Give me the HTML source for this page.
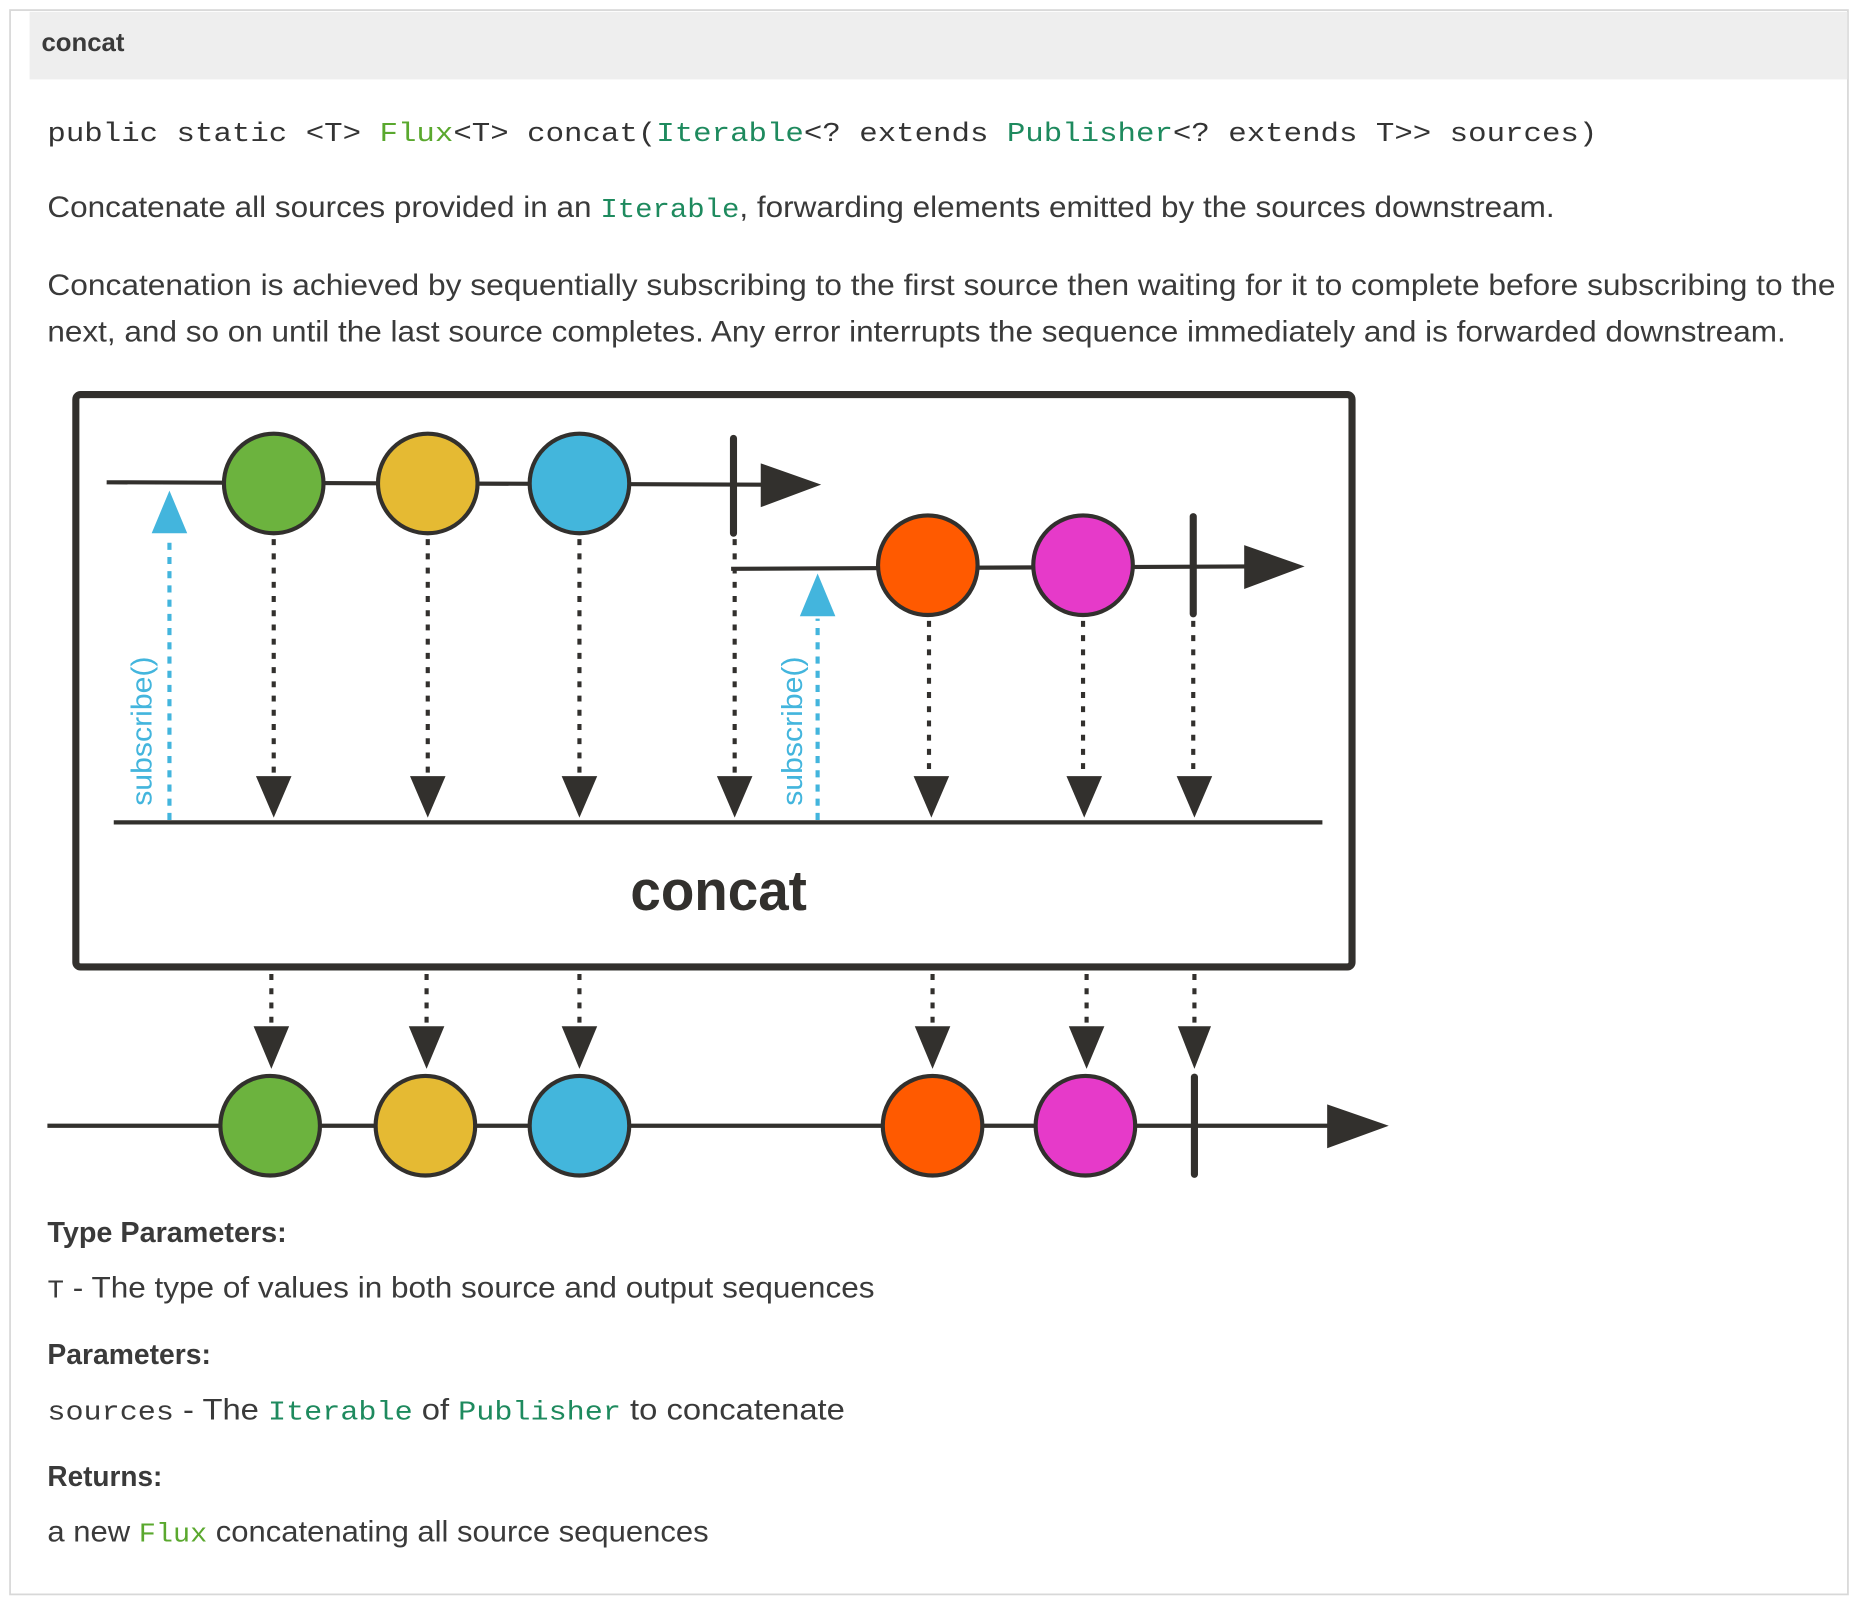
<!DOCTYPE html>
<html><head><meta charset="utf-8"><style>
html,body{margin:0;padding:0;background:#fff;}
svg{display:block;}
text{font-family:"Liberation Sans",sans-serif;fill:#3a3a3a;}
.m{font-family:"Liberation Mono",monospace;}
.g{fill:#1e8a5e;}
.fl{fill:#5aa82e;}
</style></head><body>
<svg width="1858" height="1604" viewBox="0 0 1568 1353.6" preserveAspectRatio="none" xmlns="http://www.w3.org/2000/svg">
<rect x="8.5" y="8.5" width="1551" height="1337" fill="#fff" stroke="#d8d8d8" stroke-width="1.5"/>
<rect x="25" y="10" width="1534" height="57" fill="#eeeeee"/>
<text x="35" y="43" font-size="22" font-weight="bold" textLength="70" lengthAdjust="spacingAndGlyphs" fill="#333">concat</text>
<text class="m" x="40" y="119" font-size="23" textLength="1308" lengthAdjust="spacingAndGlyphs" style="fill:#333">public static &lt;T&gt; <tspan class="fl">Flux</tspan>&lt;T&gt; concat(<tspan class="g">Iterable</tspan>&lt;? extends <tspan class="g">Publisher</tspan>&lt;? extends T&gt;&gt; sources)</text>
<text x="40" y="183" font-size="25" textLength="1272" lengthAdjust="spacingAndGlyphs">Concatenate all sources provided in an <tspan class="m g" font-size="23">Iterable</tspan>, forwarding elements emitted by the sources downstream.</text>
<text x="40" y="249" font-size="25" textLength="1509" lengthAdjust="spacingAndGlyphs">Concatenation is achieved by sequentially subscribing to the first source then waiting for it to complete before subscribing to the</text>
<text x="40" y="288" font-size="25" textLength="1467" lengthAdjust="spacingAndGlyphs">next, and so on until the last source completes. Any error interrupts the sequence immediately and is forwarded downstream.</text>

<!-- diagram box -->
<rect x="64" y="333" width="1077" height="483" rx="4" fill="none" stroke="#32302d" stroke-width="6"/>
<g stroke="#32302d" stroke-width="3.5" fill="none">
<line x1="90" y1="407" x2="645" y2="409"/>
<line x1="617" y1="480" x2="1055" y2="478"/>
<line x1="96" y1="694" x2="1116" y2="694"/>
<line x1="40" y1="950" x2="1125" y2="950"/>
</g>
<g fill="#32302d">
<polygon points="642,391 693,409 642,428"/>
<polygon points="1050,460 1101,478 1050,497"/>
<polygon points="1120,932 1172,950 1120,969"/>
<rect x="616" y="367" width="6" height="86" rx="3"/>
<rect x="1004" y="433" width="6" height="88" rx="3"/>
<rect x="1005" y="906" width="6" height="88" rx="3"/>
</g>
<!-- dotted connectors -->
<g stroke="#32302d" stroke-width="3.5" stroke-dasharray="5 7" fill="none">
<line x1="231" y1="455" x2="231" y2="660"/>
<line x1="361" y1="455" x2="361" y2="660"/>
<line x1="489" y1="455" x2="489" y2="660"/>
<line x1="620" y1="455" x2="620" y2="660"/>
<line x1="784" y1="524" x2="784" y2="660"/>
<line x1="914" y1="524" x2="914" y2="660"/>
<line x1="1007" y1="524" x2="1007" y2="660"/>
<line x1="229" y1="822" x2="229" y2="868"/>
<line x1="360" y1="822" x2="360" y2="868"/>
<line x1="489" y1="822" x2="489" y2="868"/>
<line x1="787" y1="822" x2="787" y2="868"/>
<line x1="917" y1="822" x2="917" y2="868"/>
<line x1="1008" y1="822" x2="1008" y2="868"/>
</g>
<g fill="#32302d">
<polygon points="216,655 246,655 231,690"/>
<polygon points="346,655 376,655 361,690"/>
<polygon points="474,655 504,655 489,690"/>
<polygon points="605,655 635,655 620,690"/>
<polygon points="771,655 801,655 786,690"/>
<polygon points="900,655 930,655 915,690"/>
<polygon points="993,655 1023,655 1008,690"/>
<polygon points="214,866 244,866 229,902"/>
<polygon points="345,866 375,866 360,902"/>
<polygon points="474,866 504,866 489,902"/>
<polygon points="772,866 802,866 787,902"/>
<polygon points="902,866 932,866 917,902"/>
<polygon points="994,866 1022,866 1008,902"/>
</g>
<!-- subscribe -->
<g stroke="#43b5dd" stroke-width="3.5" stroke-dasharray="6 6" fill="none">
<line x1="143" y1="692" x2="143" y2="452"/>
<line x1="690" y1="692" x2="690" y2="522"/>
</g>
<g fill="#43b5dd">
<polygon points="128,450 158,450 143,414"/>
<polygon points="675,520 705,520 690,484"/>
</g>
<text transform="translate(128,680) rotate(-90)" font-size="24" textLength="126" lengthAdjust="spacingAndGlyphs" style="fill:#43b5dd">subscribe()</text>
<text transform="translate(677,680) rotate(-90)" font-size="24" textLength="126" lengthAdjust="spacingAndGlyphs" style="fill:#43b5dd">subscribe()</text>
<!-- circles -->
<g stroke="#32302d" stroke-width="3.5">
<circle cx="231" cy="408" r="42" fill="#6cb33e"/>
<circle cx="361" cy="408" r="42" fill="#e5ba33"/>
<circle cx="489" cy="408" r="42" fill="#43b6dc"/>
<circle cx="783" cy="477" r="42" fill="#ff5a00"/>
<circle cx="914" cy="477" r="42" fill="#e63ac9"/>
<circle cx="228" cy="950" r="42" fill="#6cb33e"/>
<circle cx="359" cy="950" r="42" fill="#e5ba33"/>
<circle cx="489" cy="950" r="42" fill="#43b6dc"/>
<circle cx="787" cy="950" r="42" fill="#ff5a00"/>
<circle cx="916" cy="950" r="42" fill="#e63ac9"/>
</g>
<text x="532" y="768" font-size="48" font-weight="bold" textLength="149" lengthAdjust="spacingAndGlyphs" style="fill:#32302d">concat</text>

<!-- details -->
<text x="40" y="1048" font-size="24" font-weight="bold" textLength="202" lengthAdjust="spacingAndGlyphs" fill="#444">Type Parameters:</text>
<text x="40" y="1095" font-size="25" textLength="698" lengthAdjust="spacingAndGlyphs"><tspan class="m" font-size="22">T</tspan> - The type of values in both source and output sequences</text>
<text x="40" y="1151" font-size="24" font-weight="bold" textLength="138" lengthAdjust="spacingAndGlyphs" fill="#444">Parameters:</text>
<text x="40" y="1198" font-size="25" textLength="673" lengthAdjust="spacingAndGlyphs"><tspan class="m" font-size="23">sources</tspan> - The <tspan class="m g" font-size="23">Iterable</tspan> of <tspan class="m g" font-size="23">Publisher</tspan> to concatenate</text>
<text x="40" y="1254" font-size="24" font-weight="bold" textLength="97" lengthAdjust="spacingAndGlyphs" fill="#444">Returns:</text>
<text x="40" y="1301" font-size="25" textLength="558" lengthAdjust="spacingAndGlyphs">a new <tspan class="m fl" font-size="23">Flux</tspan> concatenating all source sequences</text>
</svg>
</body></html>
